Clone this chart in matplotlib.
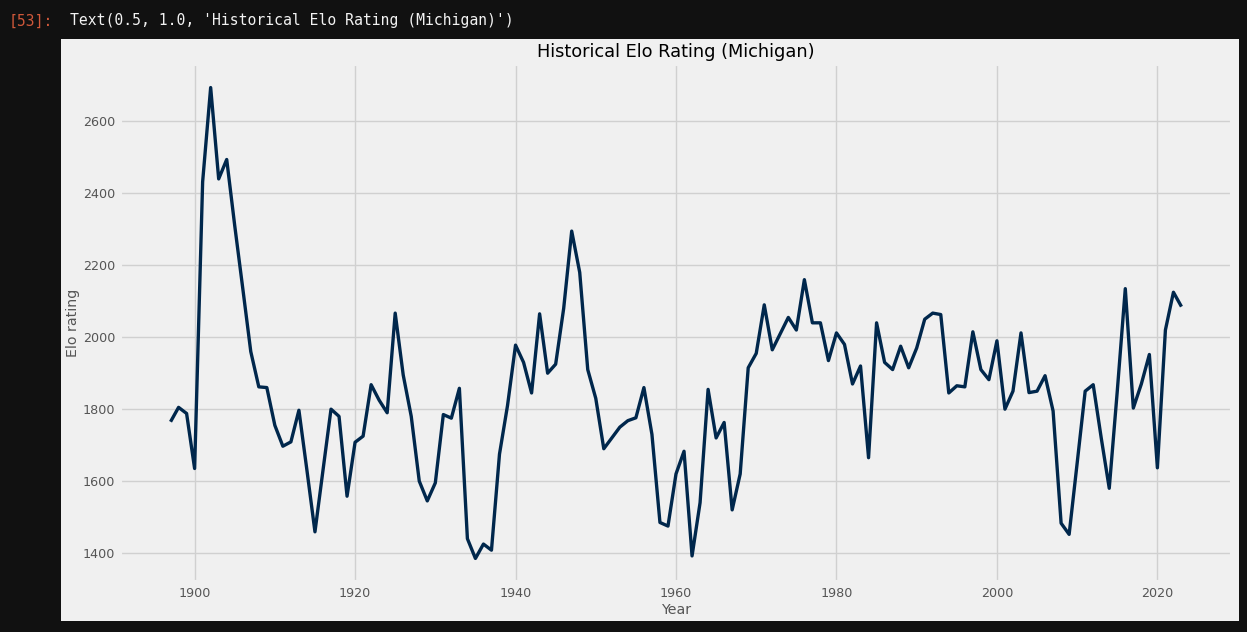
import matplotlib
matplotlib.use('Agg')
import matplotlib.pyplot as plt
from matplotlib.patches import Rectangle

plt.style.use('fivethirtyeight')

# Michigan Elo rating per season
years = list(range(1897, 2024))
elo = [1765, 1805, 1788, 1635, 2432, 2694, 2440, 2494, 2310, 2136,
       1960, 1862, 1860, 1755, 1697, 1709, 1797, 1630, 1459, 1630,
       1800, 1780, 1558, 1708, 1725, 1868, 1825, 1790, 2067, 1895,
       1780, 1600, 1545, 1595, 1785, 1775, 1858, 1440, 1385, 1425,
       1408, 1675, 1810, 1978, 1930, 1845, 2065, 1900, 1925, 2080,
       2295, 2180, 1910, 1830, 1690, 1720, 1750, 1768, 1776, 1860,
       1730, 1485, 1475, 1620, 1683, 1392, 1540, 1855, 1720, 1763,
       1520, 1620, 1915, 1955, 2090, 1965, 2010, 2055, 2020, 2160,
       2040, 2040, 1935, 2012, 1980, 1870, 1920, 1665, 2040, 1930,
       1910, 1975, 1915, 1970, 2050, 2067, 2063, 1845, 1865, 1862,
       2015, 1910, 1882, 1990, 1800, 1850, 2012, 1846, 1850, 1893,
       1795, 1483, 1452, 1650, 1850, 1868, 1720, 1580, 1850, 2135,
       1803, 1870, 1952, 1637, 2020, 2125, 2085]

title = 'Historical Elo Rating (Michigan)'

W, H = 1247, 632
fig = plt.figure(figsize=(W / 100, H / 100), dpi=100)
fig.patch.set_facecolor('#111111')

# light panel where the notebook shows the figure
fig.patches.append(Rectangle((61 / W, (H - 621) / H), (1239 - 61) / W, (621 - 39) / H,
                             transform=fig.transFigure, facecolor='#f0f0f0',
                             edgecolor='none', zorder=-10))

# notebook output line above the figure
fig.text(9 / W, 1 - 21 / H, '[53]:', family='DejaVu Sans Mono', color='#d0583a',
         fontsize=10.6, va='center')
fig.text(70 / W, 1 - 21 / H, "Text(0.5, 1.0, '" + title + "')", family='DejaVu Sans Mono',
         color='#f2f2f2', fontsize=10.6, va='center')

ax = fig.add_axes([120 / W, 50 / H, 1112 / W, 518 / H])
ax.set_zorder(1)
ax.plot(years, elo, color='#00274c', linewidth=2.4)

ax.grid(color='#d0d0d0', linewidth=1.0)
ax.tick_params(labelsize=9.2, colors='#555555', length=0)
ax.set_title(title, fontsize=12.8, color='black', pad=5)
ax.set_xlabel('Year', fontsize=10.2, color='#555555', labelpad=2)
ax.set_ylabel('Elo rating', fontsize=10.2, color='#555555', labelpad=2)

fig.savefig('out.png', dpi=100, facecolor=fig.get_facecolor())
